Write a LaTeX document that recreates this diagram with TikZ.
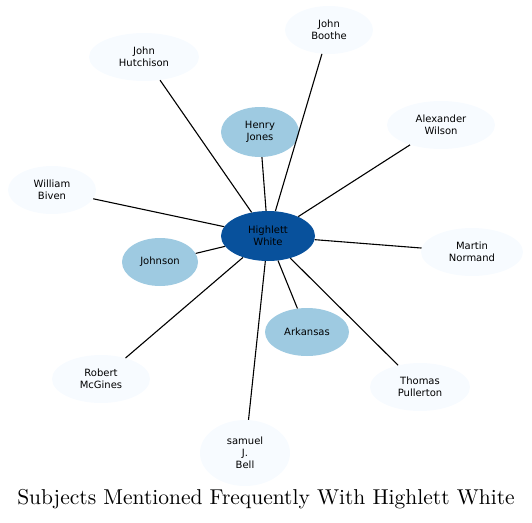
\documentclass[tikz,border=0pt]{standalone}
\usepackage{fontspec}
\newfontfamily\nodefont{DejaVu Sans}
\newfontfamily\titlefont[Extension=.otf]{lmroman10-regular}
\usetikzlibrary{shapes.geometric}
\definecolor{hub}{HTML}{08519C}
\definecolor{mid}{HTML}{9ECAE1}
\definecolor{pale}{HTML}{F7FBFF}
\tikzset{
  base/.style={ellipse, inner sep=0pt, align=center, font=\nodefont\fontsize{10}{12}\selectfont},
  hubnode/.style={base, fill=hub},
  midnode/.style={base, fill=mid},
  palenode/.style={base, fill=pale},
  link/.style={draw=black, line width=1.1pt}
}
\begin{document}
\begin{tikzpicture}[x=1pt,y=-1pt]
\useasboundingbox (0,0) rectangle (532,522);
\node[hubnode, minimum width=94pt, minimum height=50pt] (hw) at (268,236) {Highlett\\White};
\node[midnode, minimum width=78pt, minimum height=50pt] (hj) at (260,132) {Henry\\Jones};
\node[midnode, minimum width=76pt, minimum height=48pt] (jo) at (160,262) {Johnson};
\node[midnode, minimum width=84pt, minimum height=48pt] (ar) at (307,332) {Arkansas};
\node[palenode, minimum width=88pt, minimum height=48pt] (jb) at (329,30) {John\\Boothe};
\node[palenode, minimum width=110pt, minimum height=48pt] (jh) at (144,57) {John\\Hutchison};
\node[palenode, minimum width=108pt, minimum height=48pt] (aw) at (441,125) {Alexander\\Wilson};
\node[palenode, minimum width=88pt, minimum height=48pt] (wb) at (52,190) {William\\Biven};
\node[palenode, minimum width=102pt, minimum height=48pt] (mn) at (472,252) {Martin\\Normand};
\node[palenode, minimum width=98pt, minimum height=48pt] (rm) at (101,379) {Robert\\McGines};
\node[palenode, minimum width=100pt, minimum height=48pt] (tp) at (420,387) {Thomas\\Pullerton};
\node[palenode, minimum width=90pt, minimum height=66pt] (sb) at (245,453) {samuel\\J.\\Bell};
\node[font=\titlefont\fontsize{21.5}{24}\selectfont] (title) at (266,499) {Subjects Mentioned Frequently With Highlett White};
\foreach \n in {hj,jo,ar,jb,jh,aw,wb,mn,rm,tp,sb}
  \draw[link] (hw) -- (\n);
\end{tikzpicture}
\end{document}
